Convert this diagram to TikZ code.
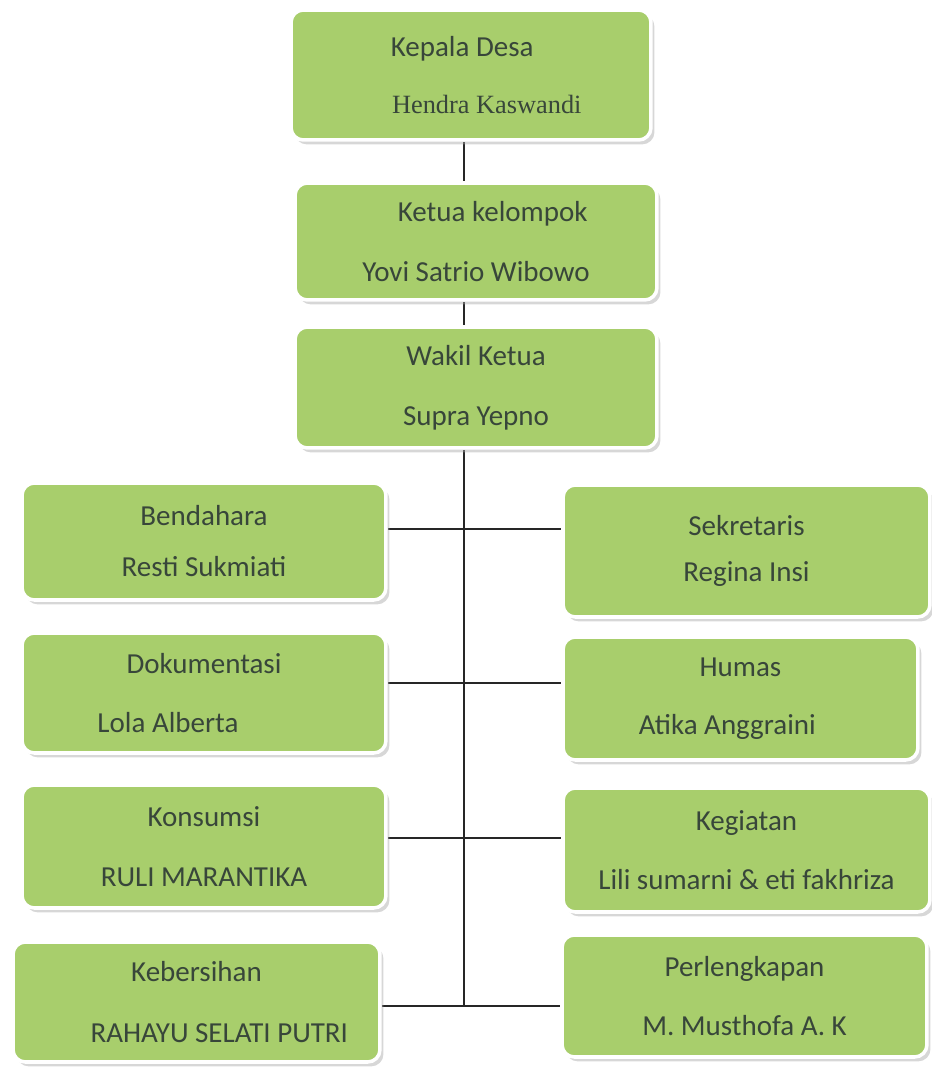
\documentclass[tikz,border=0pt]{standalone}
\usepackage{fontspec}
\setmainfont{Carlito}
\newfontfamily\namaserif{Liberation Serif}
\usepackage{xcolor}
\usepackage{tikz}
\usetikzlibrary{shadows}
\usetikzlibrary{backgrounds}
\definecolor{daun}{RGB}{168,206,108}
\definecolor{tinta}{RGB}{56,70,58}
\tikzset{
	unit node/.style={rectangle,rounded corners=7pt,fill=daun,draw=white,line width=2pt,
		text=tinta,align=center,inner sep=0pt,font=\fontsize{16.5}{20}\selectfont,
		drop shadow={shadow xshift=2pt,shadow yshift=-2.5pt,fill=black!35,opacity=0.45}},
	garis/.style={draw=black!85,line width=1.1pt}
}
\newcommand{\jabatan}[3]{#1\\[#3]#2}

\begin{document}
\begin{tikzpicture}[x=0.02cm,y=-0.02cm]
	\useasboundingbox (0,0) rectangle (932,1068);
	    \node [unit node,minimum width=7.2cm,minimum height=2.6cm] (kades) at (471,75)
	      {\jabatan{Kepala Desa\hspace*{10pt}}{\hspace*{18pt}{\namaserif\fontsize{15}{20}\selectfont Hendra Kaswandi}}{12pt}};
	    \node [unit node,minimum width=7.24cm,minimum height=2.34cm] (ketua) at (476,241.5)
	      {\jabatan{\hspace*{19pt}Ketua kelompok}{Yovi Satrio Wibowo}{14pt}};
	    \node [unit node,minimum width=7.24cm,minimum height=2.42cm] (wakil) at (476,387.5)
	      {\jabatan{Wakil Ketua}{Supra Yepno}{14pt}};
	    \node [unit node,minimum width=7.28cm,minimum height=2.34cm] (bendahara) at (204,541.5)
	      {\jabatan{Bendahara}{Resti Sukmiati}{9pt}};
	    \node [unit node,minimum width=7.28cm,minimum height=2.4cm] (dokumentasi) at (204,693)
	      {\jabatan{Dokumentasi}{Lola Alberta\hspace*{41pt}}{14pt}};
	    \node [unit node,minimum width=7.28cm,minimum height=2.46cm] (konsumsi) at (204,846.5)
	      {\jabatan{Konsumsi}{RULI MARANTIKA}{14pt}};
	    \node [unit node,minimum width=7.34cm,minimum height=2.4cm] (kebersihan) at (196.5,1002)
	      {\jabatan{Kebersihan}{\hspace*{26pt}RAHAYU SELATI PUTRI}{15pt}};
	    \node [unit node,minimum width=7.34cm,minimum height=2.64cm] (sekretaris) at (746.5,551)
	      {\jabatan{Sekretaris}{Regina Insi}{6pt}};
	    \node [unit node,minimum width=7.1cm,minimum height=2.46cm] (humas) at (740.5,698.5)
	      {\jabatan{Humas}{Atika Anggraini\hspace*{15pt}}{13pt}};
	    \node [unit node,minimum width=7.34cm,minimum height=2.48cm] (kegiatan) at (746.5,850)
	      {\jabatan{Kegiatan}{Lili sumarni \& eti fakhriza}{14pt}};
	    \node [unit node,minimum width=7.3cm,minimum height=2.44cm] (perlengkapan) at (744.5,996)
	      {\jabatan{Perlengkapan}{M. Musthofa A. K}{14pt}};
	    \coordinate (tulang) at (464,0);
	    \coordinate (baris1) at (464,529);
	    \coordinate (baris2) at (464,683);
	    \coordinate (baris3) at (464,838);
	    \coordinate (baris4) at (464,1006);
	    \begin{scope}[on background layer]
	      \draw [garis] (kades.south -| tulang) -- (ketua.north -| tulang);
	      \draw [garis] (ketua.south -| tulang) -- (wakil.north -| tulang);
	      \draw [garis] (wakil.south -| tulang) -- (baris4);
	      \draw [garis] (bendahara.east |- baris1) -- (sekretaris.west |- baris1);
	      \draw [garis] (dokumentasi.east |- baris2) -- (humas.west |- baris2);
	      \draw [garis] (konsumsi.east |- baris3) -- (kegiatan.west |- baris3);
	      \draw [garis] (kebersihan.east |- baris4) -- (perlengkapan.west |- baris4);
	    \end{scope}
\end{tikzpicture}
\end{document}
